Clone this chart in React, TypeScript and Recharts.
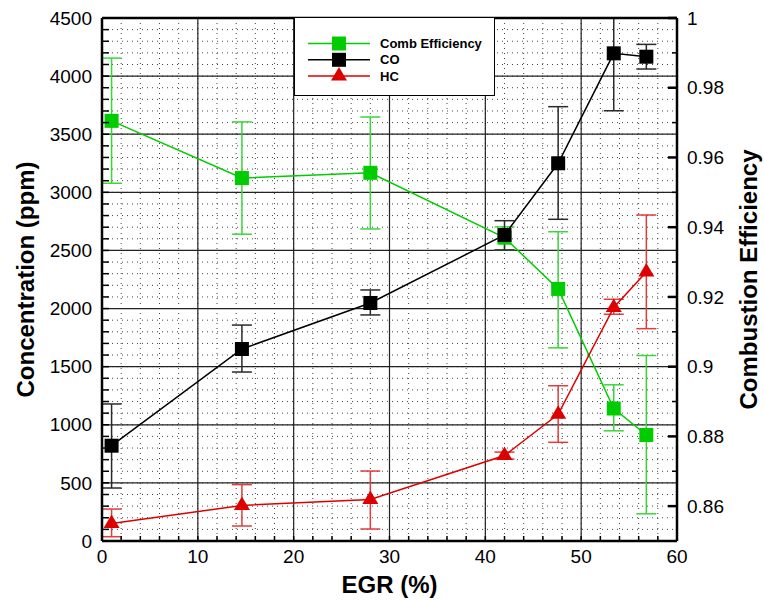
import React from 'react';
import {
  LineChart,
  Line,
  XAxis,
  YAxis,
  CartesianGrid,
  ErrorBar,
  Legend,
  ReferenceLine,
} from 'recharts';

// EGR rate (%) shared by all three series
const egr = [1, 14.6, 28, 42, 47.6, 53.4, 56.8];

// Combustion efficiency (right axis) with lower / upper error bounds
const combEfficiency = [0.9705, 0.9541, 0.9556, 0.937, 0.9223, 0.888, 0.8804];
const combLow = [0.9526, 0.938, 0.9395, 0.9335, 0.9054, 0.8816, 0.8578];
const combHigh = [0.9885, 0.9702, 0.9716, 0.9401, 0.9387, 0.8948, 0.9032];

// CO concentration (ppm) with lower / upper error bounds
// (the sixth upper bound is held at the 4500 ppm ceiling of the axis)
const co = [820, 1652, 2048, 2633, 3250, 4196, 4167];
const coLow = [456, 1454, 1945, 2504, 2768, 3702, 4061];
const coHigh = [1179, 1858, 2160, 2756, 3737, 4500, 4273];

// HC concentration (ppm) with lower / upper error bounds
const hc = [150, 306, 358, 735, 1090, 2010, 2315];
const hcLow = [37, 129, 103, 705, 849, 1951, 1827];
const hcHigh = [275, 485, 602, 765, 1336, 2080, 2805];

// Labelled tick values
const egrLabels = [0, 10, 20, 30, 40, 50, 60];
const ppmLabels = [0, 500, 1000, 1500, 2000, 2500, 3000, 3500, 4000, 4500];
const effLabels = [0.86, 0.88, 0.9, 0.92, 0.94, 0.96, 0.98, 1];

// Minor tick steps
const egrStep = 2;
const ppmStep = 100;
const effMinor = [0.85, 0.86, 0.87, 0.88, 0.89, 0.9, 0.91, 0.92, 0.93, 0.94, 0.95, 0.96, 0.97, 0.98, 0.99, 1];

const egrTicks = Array.from({ length: 60 / egrStep + 1 }, (_, i) => i * egrStep);
const ppmTicks = Array.from({ length: 4500 / ppmStep + 1 }, (_, i) => i * ppmStep);

const GREEN = '#00cc00';
const GREEN_ERR = '#3ad63a';
const BLACK = '#000000';
const BLACK_ERR = '#2a2a2a';
const RED = '#dd0000';
const RED_ERR = '#e23c3c';

const FONT = "'Liberation Sans', Arial, Helvetica, sans-serif";
const TICK_MARGIN = 10;

const table = egr.map((x, i) => ({
  egr: x,
  comb: combEfficiency[i],
  combErr: [combEfficiency[i] - combLow[i], combHigh[i] - combEfficiency[i]],
  co: co[i],
  coErr: [co[i] - coLow[i], coHigh[i] - co[i]],
  hc: hc[i],
  hcErr: [hc[i] - hcLow[i], hcHigh[i] - hc[i]],
}));

type Shape = 'square' | 'triangle';

const seriesInfo: { name: string; color: string; shape: Shape }[] = [
  { name: 'Comb Efficiency', color: GREEN, shape: 'square' },
  { name: 'CO', color: BLACK, shape: 'square' },
  { name: 'HC', color: RED, shape: 'triangle' },
];

function Marker({ cx, cy, color, shape }: { cx: number; cy: number; color: string; shape: Shape }) {
  if (shape === 'square') {
    const s = 14;
    return <rect x={cx - s / 2} y={cy - s / 2} width={s} height={s} fill={color} />;
  }
  const w = 16;
  const h = 13.5;
  return (
    <polygon
      points={`${cx},${cy - (2 * h) / 3} ${cx + w / 2},${cy + h / 3} ${cx - w / 2},${cy + h / 3}`}
      fill={color}
    />
  );
}

const makeDot = (color: string, shape: Shape) => (p: any) => {
  if (p.cx == null || p.cy == null) return <g key={p.key ?? p.index} />;
  return (
    <g key={p.key ?? `dot-${p.index}`}>
      <Marker cx={p.cx} cy={p.cy} color={color} shape={shape} />
    </g>
  );
};

const tickText = {
  fontFamily: FONT,
  fontSize: 19,
  fill: '#000',
};

function LeftTick(props: any) {
  const { x, y, payload } = props;
  const axisX = x + TICK_MARGIN;
  const v = payload.value;
  return (
    <g>
      <line x1={axisX} x2={axisX + 7} y1={y} y2={y} stroke="#000" strokeWidth={1.5} />
      {ppmLabels.includes(v) && (
        <text x={x} y={y} dy="0.35em" textAnchor="end" {...tickText}>
          {v}
        </text>
      )}
    </g>
  );
}

function RightTick(props: any) {
  const { x, y, payload } = props;
  const axisX = x - TICK_MARGIN;
  const v = payload.value;
  const labelled = effLabels.some((l) => Math.abs(l - v) < 1e-6);
  return (
    <g>
      <line
        x1={axisX - (labelled ? 9 : 5)}
        x2={axisX}
        y1={y}
        y2={y}
        stroke="#000"
        strokeWidth={labelled ? 2.5 : 1.5}
      />
      {labelled && (
        <text x={x} y={y} dy="0.35em" textAnchor="start" {...tickText}>
          {String(v)}
        </text>
      )}
    </g>
  );
}

function BottomTick(props: any) {
  const { x, y, payload } = props;
  const axisY = y - TICK_MARGIN + 1;
  const v = payload.value;
  return (
    <g>
      <line x1={x} x2={x} y1={axisY} y2={axisY - 5} stroke="#000" strokeWidth={1.5} />
      {egrLabels.includes(v) && (
        <text x={x} y={y} dy="0.71em" textAnchor="middle" {...tickText}>
          {v}
        </text>
      )}
    </g>
  );
}

const titleStyle = {
  fontFamily: FONT,
  fontSize: 24,
  fontWeight: 700,
  fill: '#000',
};

const leftTitle = (p: any) => {
  const vb = p.viewBox;
  const cx = vb.x + 25;
  const cy = vb.y + vb.height / 2;
  return (
    <text
      x={cx}
      y={cy}
      transform={`rotate(-90 ${cx} ${cy})`}
      textAnchor="middle"
      dominantBaseline="central"
      {...titleStyle}
    >
      Concentration (ppm)
    </text>
  );
};

const rightTitle = (p: any) => {
  const vb = p.viewBox;
  const cx = vb.x + 71;
  const cy = vb.y + vb.height / 2;
  return (
    <text
      x={cx}
      y={cy}
      transform={`rotate(-90 ${cx} ${cy})`}
      textAnchor="middle"
      dominantBaseline="central"
      {...titleStyle}
    >
      Combustion Efficiency
    </text>
  );
};

const bottomTitle = (p: any) => {
  const vb = p.viewBox;
  return (
    <text x={vb.x + vb.width / 2} y={vb.y + 52} textAnchor="middle" {...titleStyle}>
      EGR (%)
    </text>
  );
};

function LegendBox() {
  return (
    <div
      style={{
        width: 201,
        height: 79,
        border: '1px solid #000',
        background: '#fff',
        boxSizing: 'border-box',
      }}
    >
      <svg width={199} height={77} style={{ display: 'block' }}>
        {seriesInfo.map((s, i) => {
          const cy = 25.5 + i * 16.3;
          return (
            <g key={s.name}>
              <line x1={13} x2={75} y1={cy} y2={cy} stroke={s.color} strokeWidth={1.5} />
              <Marker cx={44} cy={cy} color={s.color} shape={s.shape} />
              <text
                x={85}
                y={cy}
                dy="0.36em"
                fontFamily={FONT}
                fontSize={13}
                fontWeight={700}
                fill="#000"
              >
                {s.name}
              </text>
            </g>
          );
        })}
      </svg>
    </div>
  );
}

export default function App() {
  return (
    <div style={{ position: 'absolute', left: 0, top: 0, background: '#fff' }}>
      <LineChart
        width={764}
        height={601}
        data={table}
        margin={{ top: 18, right: 0, bottom: 0, left: 0 }}
      >
        <CartesianGrid
          xAxisId="x"
          yAxisId="left"
          stroke="#444"
          strokeWidth={1}
          strokeDasharray="1 4"
        />
        <CartesianGrid
          xAxisId="x"
          yAxisId="left"
          stroke="#222"
          strokeWidth={1.2}
          horizontalValues={ppmLabels.slice(1, -1)}
          verticalValues={egrLabels.slice(1, -1)}
        />
        <XAxis
          xAxisId="x"
          dataKey="egr"
          type="number"
          domain={[0, 60]}
          allowDataOverflow
          ticks={egrTicks}
          interval={0}
          tickSize={0}
          tickMargin={TICK_MARGIN - 1}
          tickLine={false}
          tick={(p: any) => <BottomTick {...p} />}
          axisLine={{ stroke: '#000', strokeWidth: 2.5 }}
          height={60}
          label={bottomTitle}
        />
        <YAxis
          yAxisId="left"
          orientation="left"
          type="number"
          domain={[0, 4500]}
          allowDataOverflow
          ticks={ppmTicks}
          interval={0}
          tickSize={0}
          tickMargin={TICK_MARGIN}
          tickLine={false}
          tick={(p: any) => <LeftTick {...p} />}
          axisLine={{ stroke: '#000', strokeWidth: 2.5 }}
          width={102}
          label={leftTitle}
        />
        <YAxis
          yAxisId="right"
          orientation="right"
          type="number"
          domain={[0.85, 1]}
          allowDataOverflow
          ticks={effMinor}
          interval={0}
          tickSize={0}
          tickMargin={TICK_MARGIN}
          tickLine={false}
          tick={(p: any) => <RightTick {...p} />}
          axisLine={{ stroke: '#000', strokeWidth: 2.5 }}
          width={87}
          label={rightTitle}
        />
        <Line
          xAxisId="x"
          yAxisId="right"
          dataKey="comb"
          name="Comb Efficiency"
          stroke={GREEN}
          strokeWidth={1.5}
          isAnimationActive={false}
          dot={makeDot(GREEN, 'square')}
          activeDot={false}
        >
          <ErrorBar dataKey="combErr" direction="y" stroke={GREEN_ERR} strokeWidth={1.5} width={10} />
        </Line>
        <Line
          xAxisId="x"
          yAxisId="left"
          dataKey="co"
          name="CO"
          stroke={BLACK}
          strokeWidth={1.5}
          isAnimationActive={false}
          dot={makeDot(BLACK, 'square')}
          activeDot={false}
        >
          <ErrorBar dataKey="coErr" direction="y" stroke={BLACK_ERR} strokeWidth={1.5} width={10} />
        </Line>
        <Line
          xAxisId="x"
          yAxisId="left"
          dataKey="hc"
          name="HC"
          stroke={RED}
          strokeWidth={1.5}
          isAnimationActive={false}
          dot={makeDot(RED, 'triangle')}
          activeDot={false}
        >
          <ErrorBar dataKey="hcErr" direction="y" stroke={RED_ERR} strokeWidth={1.5} width={10} />
        </Line>
        <ReferenceLine xAxisId="x" yAxisId="left" y={4500} stroke="#000" strokeWidth={2.5} />
        <Legend
          layout="vertical"
          align="center"
          verticalAlign="middle"
          content={() => <LegendBox />}
          wrapperStyle={{ left: 294, top: 17, width: 201, height: 79 }}
        />
      </LineChart>
    </div>
  );
}
